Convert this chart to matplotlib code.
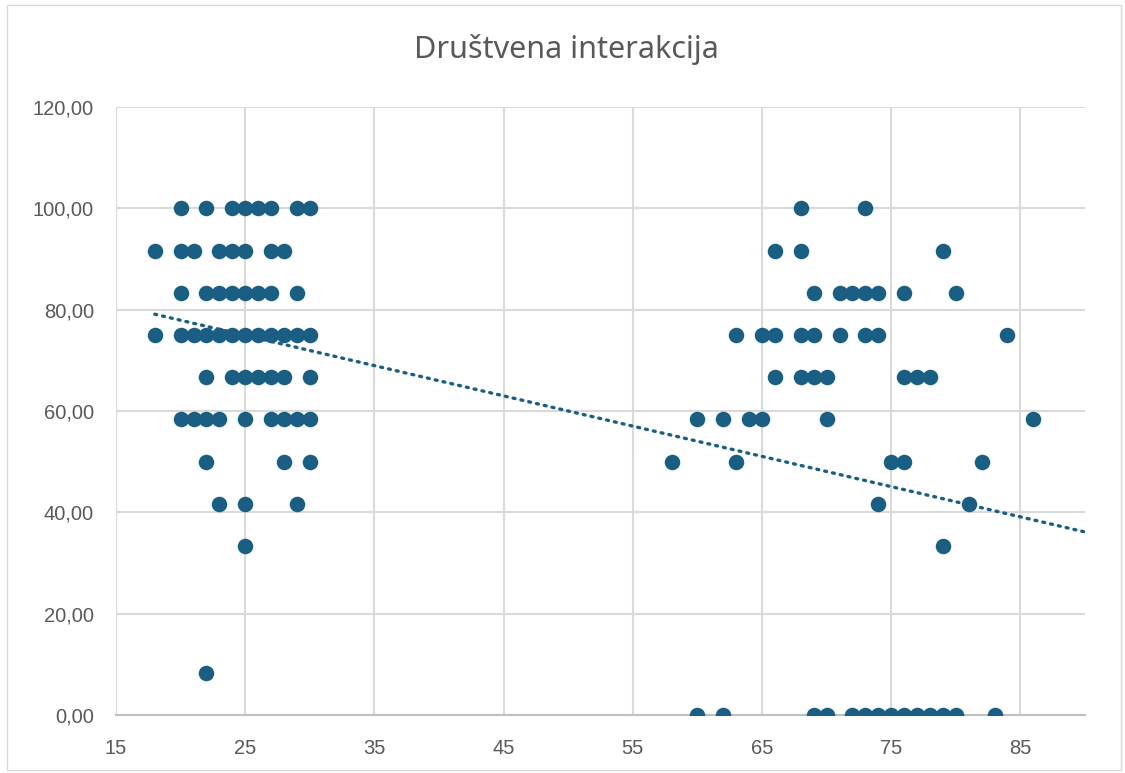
import numpy as np
import matplotlib.pyplot as plt
from matplotlib.patches import Rectangle

plt.rcParams['font.family'] = ['Liberation Sans', 'DejaVu Sans']

# values (age, score) grouped by score row
rows = {
    100.00: [20, 22, 24, 25, 26, 27, 29, 30, 68, 73],
    91.67: [18, 20, 21, 23, 24, 25, 27, 28, 66, 68, 79],
    83.33: [20, 22, 23, 24, 25, 26, 27, 29, 69, 71, 72, 73, 74, 76, 80],
    75.00: [18, 20, 21, 22, 23, 24, 25, 26, 27, 28, 29, 30,
            63, 65, 66, 68, 69, 71, 73, 74, 84],
    66.67: [22, 24, 25, 26, 27, 28, 30, 66, 68, 69, 70, 76, 77, 78],
    58.33: [20, 21, 22, 23, 25, 27, 28, 29, 30, 60, 62, 64, 65, 70, 86],
    50.00: [22, 28, 30, 58, 63, 75, 76, 82],
    41.67: [23, 25, 29, 74, 81],
    33.33: [25, 79],
    8.33: [22],
    0.00: [60, 62, 69, 70, 72, 73, 74, 75, 76, 77, 78, 79, 80, 83],
}

# linear trend line as shown in the chart
trend_slope = -0.597
trend_intercept = 89.85
trend_x = [18, 90]

x_vals = np.array([a for y, xs in rows.items() for a in xs], dtype=float)
y_vals = np.array([y for y, xs in rows.items() for a in xs], dtype=float)

x_ticks = [15, 25, 35, 45, 55, 65, 75, 85]
y_ticks = [0, 20, 40, 60, 80, 100, 120]

col = '#1a5f83'
txt = '#595959'

fig = plt.figure(figsize=(11.25, 7.73), dpi=100)
ax = fig.add_axes([116 / 1125, 1 - 715 / 773, (1085 - 116) / 1125, (715 - 107) / 773])

ax.scatter(x_vals, y_vals, s=125, color=col, zorder=3, linewidths=0)

tx = np.array(trend_x, dtype=float)
ax.plot(tx, trend_slope * tx + trend_intercept, color=col, lw=2.4,
        linestyle=(0, (0.6, 1.8)), dash_capstyle='round', zorder=2)

ax.set_xlim(15, 90)
ax.set_ylim(0, 120)
ax.set_xticks(x_ticks)
ax.set_yticks(y_ticks)
ax.set_yticklabels([f'{v:.2f}'.replace('.', ',') for v in y_ticks])
ax.grid(True, color='#d9d9d9', lw=1.5, zorder=0)
ax.set_axisbelow(True)
for s in ['top', 'right', 'left']:
    ax.spines[s].set_visible(False)
ax.spines['bottom'].set_color('#bfbfbf')
ax.spines['bottom'].set_linewidth(1.5)
ax.tick_params(length=0, labelsize=14.5, colors=txt)
ax.tick_params(axis='y', pad=16)
ax.tick_params(axis='x', pad=17)

fig.text(566 / 1125, 1 - 58 / 773, 'Društvena interakcija', ha='center', va='baseline',
         fontsize=22, color=txt, family=['Noto Sans', 'DejaVu Sans'])

fig.patches.append(Rectangle((0.006, 0.004), 0.99, 0.99, transform=fig.transFigure,
                             fill=False, edgecolor='#d9d9d9', lw=1))

fig.savefig('out.png', dpi=100)
